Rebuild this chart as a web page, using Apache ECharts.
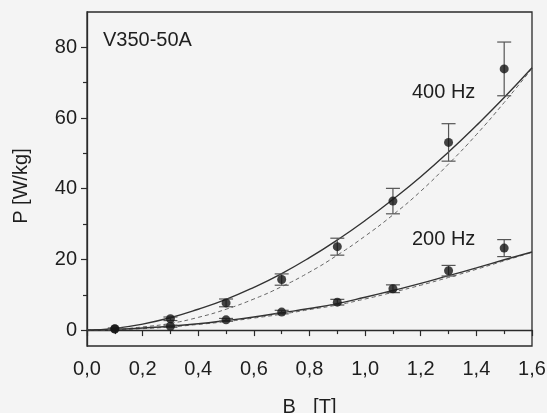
<!DOCTYPE html>
<html>
<head>
<meta charset="utf-8">
<script src="https://cdn.jsdelivr.net/npm/echarts@6/dist/echarts.min.js"></script>
<style>
  html, body { margin: 0; padding: 0; background: #f4f4f4; }
  #chart { width: 547px; height: 413px; }
</style>
</head>
<body>
<div id="chart"></div>
<script>
// Measured loss points (flux density in T, loss in W/kg) with error half-widths
const bValues = [0.1, 0.3, 0.5, 0.7, 0.9, 1.1, 1.3, 1.5];
const loss400 = [0.4, 3.2, 7.7, 14.3, 23.6, 36.5, 53.1, 73.9];
const err400 = [0.2, 0.5, 1.1, 1.6, 2.4, 3.6, 5.3, 7.6];
const loss200 = [0.3, 1.1, 2.9, 5.1, 7.9, 11.7, 16.8, 23.2];
const err200 = [0.1, 0.3, 0.4, 0.5, 0.8, 1.1, 1.5, 2.4];

// Model curves sampled along B
const curveB = [0, 0.1, 0.2, 0.3, 0.4, 0.5, 0.6, 0.7, 0.8, 0.9, 1.0, 1.1, 1.2, 1.3, 1.4, 1.5, 1.6];
const model400 = [0, 0.5, 1.7, 3.5, 5.9, 8.7, 12.1, 16.0, 20.5, 25.5, 31.0, 37.0, 43.4, 50.4, 57.9, 65.8, 74.2];
const alt400 = [0, 0.2, 0.9, 1.9, 3.6, 5.9, 8.8, 12.3, 16.4, 21.2, 26.6, 32.6, 39.3, 47.0, 55.3, 64.4, 74.0];
const model200 = [0, 0.2, 0.6, 1.1, 1.8, 2.7, 3.7, 4.9, 6.1, 7.5, 9.3, 11.2, 13.2, 15.4, 17.6, 19.9, 22.1];
const alt200 = [0, 0.1, 0.4, 0.9, 1.6, 2.4, 3.4, 4.5, 5.8, 7.1, 8.8, 10.7, 12.7, 14.9, 17.2, 19.6, 22.0];

// Axis tick labels
const xTickValues = [0, 0.2, 0.4, 0.6, 0.8, 1.0, 1.2, 1.4, 1.6];
const yMajorTicks = [0, 20, 40, 60, 80];
const yMinorTicks = [10, 30, 50, 70];

const FONT = 'Liberation Sans, Arial, sans-serif';
const INK = '#1e1e1e';

const pairs = (xs, ys) => xs.map((x, i) => [x, ys[i]]);
const withErr = (xs, ys, es) => xs.map((x, i) => [x, ys[i], es[i]]);

function errorBar(params, api) {
  const x = api.value(0), y = api.value(1), e = api.value(2);
  const top = api.coord([x, y + e]);
  const bot = api.coord([x, y - e]);
  const half = 7;
  const style = { stroke: '#555', lineWidth: 1.2, fill: null };
  return {
    type: 'group',
    children: [
      { type: 'line', shape: { x1: top[0], y1: top[1], x2: bot[0], y2: bot[1] }, style },
      { type: 'line', shape: { x1: top[0] - half, y1: top[1], x2: top[0] + half, y2: top[1] }, style },
      { type: 'line', shape: { x1: bot[0] - half, y1: bot[1], x2: bot[0] + half, y2: bot[1] }, style }
    ]
  };
}

const chart = echarts.init(document.getElementById('chart'), null, { renderer: 'canvas' });

const yBase = {
  type: 'value', min: -4.5, max: 90, position: 'left',
  splitLine: { show: false }
};

chart.setOption({
  backgroundColor: '#f4f4f4',
  animation: false,
  textStyle: { fontFamily: FONT },
  grid: {
    left: 87, right: 15, top: 12, bottom: 67,
    containLabel: false, outerBoundsMode: 'none',
    show: true, borderColor: '#2a2a2a', borderWidth: 1.3, backgroundColor: 'transparent'
  },
  xAxis: {
    type: 'value', min: 0, max: 1.6, interval: 0.2,
    name: '{b|B}{s|m}{b| [T]}',
    nameLocation: 'middle', nameGap: 51,
    nameTextStyle: {
      rich: {
        b: { fontSize: 20, fontFamily: FONT, color: INK, lineHeight: 22, verticalAlign: 'top' },
        s: { fontSize: 14, fontFamily: FONT, color: INK, lineHeight: 14, padding: [15, 0, 0, 0], verticalAlign: 'top' }
      }
    },
    axisLine: { lineStyle: { color: '#2a2a2a', width: 1.3 } },
    axisTick: { inside: false, length: 6, lineStyle: { color: '#2a2a2a', width: 1.2 } },
    minorTick: { show: true, splitNumber: 2, length: 4, lineStyle: { color: '#2a2a2a', width: 1.2 } },
    axisLabel: {
      margin: 13, fontSize: 20, color: INK, fontFamily: FONT,
      formatter: v => v.toFixed(1).replace('.', ',')
    },
    splitLine: { show: false }
  },
  yAxis: [
    Object.assign({}, yBase, {
      name: 'P [W/kg]', nameLocation: 'middle', nameGap: 56,
      nameTextStyle: { fontSize: 20, color: INK, fontFamily: FONT, padding: [0, 14, 0, 0] },
      axisLine: { show: true, lineStyle: { color: '#2a2a2a', width: 1.3 } },
      axisTick: { show: true, length: 6, customValues: yMajorTicks, lineStyle: { color: '#2a2a2a', width: 1.2 } },
      axisLabel: { show: true, margin: 10, fontSize: 20, color: INK, fontFamily: FONT, customValues: yMajorTicks }
    }),
    Object.assign({}, yBase, {
      axisLine: { show: false },
      axisTick: { show: true, length: 4, customValues: yMinorTicks, lineStyle: { color: '#2a2a2a', width: 1.2 } },
      axisLabel: { show: false }
    })
  ],
  graphic: [
    { type: 'text', left: 103, top: 30, style: { text: 'V350-50A', fontSize: 20, fontFamily: FONT, fill: INK } },
    { type: 'text', left: 412, top: 82, style: { text: '400 Hz', fontSize: 20, fontFamily: FONT, fill: INK } },
    { type: 'text', left: 412, top: 229, style: { text: '200 Hz', fontSize: 20, fontFamily: FONT, fill: INK } }
  ],
  series: [
    { type: 'line', data: pairs(curveB, alt400), smooth: true, symbol: 'none', lineStyle: { color: '#666', width: 1, type: [4, 3] }, z: 2 },
    { type: 'line', data: pairs(curveB, alt200), smooth: true, symbol: 'none', lineStyle: { color: '#666', width: 1, type: [4, 3] }, z: 2 },
    { type: 'line', data: pairs(curveB, model400), smooth: true, symbol: 'none', lineStyle: { color: '#333', width: 1.4 }, z: 3 },
    { type: 'line', data: pairs(curveB, model200), smooth: true, symbol: 'none', lineStyle: { color: '#333', width: 1.4 }, z: 3 },
    { type: 'custom', renderItem: errorBar, data: withErr(bValues, loss400, err400), z: 4 },
    { type: 'custom', renderItem: errorBar, data: withErr(bValues, loss200, err200), z: 4 },
    { type: 'scatter', data: pairs(bValues, loss400), symbol: 'circle', symbolSize: 9, itemStyle: { color: '#151515' }, z: 5 },
    { type: 'scatter', data: pairs(bValues, loss200), symbol: 'circle', symbolSize: 9, itemStyle: { color: '#151515' }, z: 5 }
  ]
});
</script>
</body>
</html>
